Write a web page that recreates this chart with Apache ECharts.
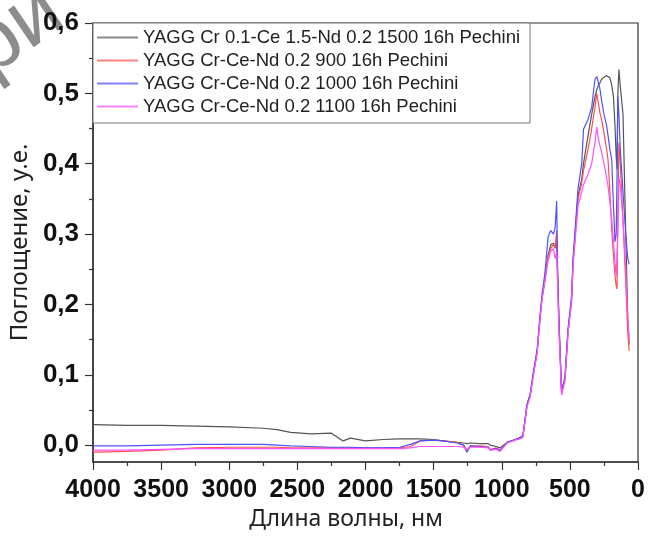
<!DOCTYPE html>
<html><head><meta charset="utf-8">
<script src="https://cdn.jsdelivr.net/npm/echarts@6/dist/echarts.min.js"></script>
<style>html,body{margin:0;padding:0;background:#fff}#c{width:648px;height:536px}</style>
</head><body><div id="c"></div>
<script>
const seriesNames = [
  'YAGG Cr 0.1-Ce 1.5-Nd 0.2 1500 16h Pechini',
  'YAGG Cr-Ce-Nd 0.2 900 16h Pechini',
  'YAGG Cr-Ce-Nd 0.2 1000 16h Pechini',
  'YAGG Cr-Ce-Nd 0.2 1100 16h Pechini'
];
const wavelengths = [4000,3750,3500,3250,3000,2750,2650,2550,2400,2250,2165,2110,2000,1870,1750,1670,1600,1500,1430,1330,1280,1255,1230,1160,1100,1085,1040,1013,960,900,865,845,815,790,770,740,720,705,683,660,640,620,608,597,590,580,573,561,550,536,514,487,477,440,413,400,367,340,316,303,290,279,267,250,230,220,206,193,180,169,160,154,148,140,130,110,90,75,65];
const abs1500 = [0.029,0.028,0.028,0.027,0.026,0.024,0.022,0.018,0.016,0.017,0.006,0.010,0.006,0.008,0.009,0.009,0.009,0.008,0.006,0.004,0.003,0.002,0.003,0.002,0.002,0.000,-0.002,-0.004,0.004,0.008,0.010,0.012,0.056,0.072,0.099,0.133,0.179,0.208,0.236,0.270,0.285,0.287,0.280,0.290,0.24,0.17,0.137,0.077,0.085,0.094,0.161,0.208,0.260,0.354,0.378,0.400,0.440,0.470,0.495,0.505,0.512,0.515,0.520,0.523,0.525,0.525,0.522,0.512,0.495,0.454,0.410,0.392,0.500,0.534,0.510,0.470,0.300,0.180,0.143];
const abs900 = [-0.010,-0.009,-0.007,-0.004,-0.003,-0.003,-0.003,-0.004,-0.004,-0.004,-0.004,-0.004,-0.004,-0.004,-0.004,-0.002,0.006,0.007,0.006,0.004,0.000,-0.008,-0.001,-0.001,-0.002,-0.006,-0.004,-0.007,0.004,0.008,0.010,0.012,0.056,0.072,0.099,0.133,0.179,0.208,0.236,0.268,0.280,0.285,0.280,0.305,0.24,0.17,0.135,0.076,0.083,0.094,0.160,0.208,0.258,0.350,0.372,0.390,0.420,0.450,0.480,0.500,0.485,0.472,0.463,0.445,0.420,0.406,0.360,0.307,0.270,0.241,0.226,0.222,0.330,0.430,0.400,0.320,0.230,0.160,0.134];
const abs1000 = [-0.001,-0.001,0.000,0.001,0.001,0.001,0.000,-0.001,-0.002,-0.003,-0.003,-0.003,-0.004,-0.004,-0.003,0.001,0.006,0.007,0.006,0.003,0.000,-0.010,-0.001,-0.002,-0.003,-0.007,-0.005,-0.008,0.004,0.008,0.011,0.014,0.058,0.074,0.102,0.137,0.183,0.213,0.245,0.296,0.305,0.300,0.310,0.347,0.25,0.18,0.138,0.078,0.086,0.097,0.165,0.213,0.265,0.365,0.400,0.449,0.463,0.480,0.520,0.524,0.515,0.506,0.490,0.470,0.454,0.440,0.420,0.406,0.340,0.289,0.300,0.380,0.496,0.470,0.420,0.360,0.300,0.265,0.257];
const abs1100 = [-0.007,-0.007,-0.006,-0.005,-0.005,-0.005,-0.005,-0.005,-0.005,-0.005,-0.005,-0.005,-0.005,-0.005,-0.005,-0.004,-0.002,-0.002,-0.002,-0.002,-0.003,-0.006,-0.003,-0.003,-0.004,-0.007,-0.006,-0.009,0.003,0.007,0.009,0.011,0.054,0.070,0.097,0.131,0.177,0.206,0.233,0.262,0.276,0.279,0.265,0.275,0.23,0.16,0.130,0.071,0.080,0.092,0.158,0.205,0.255,0.340,0.360,0.370,0.385,0.400,0.430,0.452,0.435,0.425,0.416,0.400,0.380,0.368,0.345,0.321,0.290,0.260,0.240,0.238,0.300,0.380,0.370,0.320,0.250,0.180,0.150];
const yMajorTicks = [0, 0.1, 0.2, 0.3, 0.4, 0.5, 0.6];
const xTitle = 'Длина волны, нм';
const yTitle = 'Поглощение, у.е.';
const watermarkText = 'ри';

const colors = ['#555555', '#ff5050', '#5050ff', '#ff50ff'];
const legendColors = ['#888888', '#ff8080', '#8080ff', '#ff80ff'];
const valueSets = [abs1500, abs900, abs1000, abs1100];
const pair = vals => wavelengths.map((w, i) => [w, vals[i]]);

const chart = echarts.init(document.getElementById('c'), null, {renderer: 'canvas'});
const axisColor = '#333';
chart.setOption({
  animation: false,
  backgroundColor: '#fff',
  grid: {left: 93, right: 10, top: 23, bottom: 73, show: true, borderColor: axisColor, borderWidth: 1.2, backgroundColor: 'transparent'},
  legend: {
    left: 93, top: 23, orient: 'vertical',
    padding: [5, 10, 7, 4], itemGap: 4, itemWidth: 41, itemHeight: 2, icon: 'rect',
    borderColor: '#777', borderWidth: 1, backgroundColor: '#fff',
    textStyle: {fontFamily: 'Liberation Sans', fontSize: 18.5, lineHeight: 18, color: '#222'},
    data: seriesNames.map((n, i) => ({name: n, itemStyle: {color: legendColors[i]}}))
  },
  xAxis: {
    type: 'value', inverse: true, min: 0, max: 4000, interval: 500,
    name: xTitle, nameLocation: 'middle', nameGap: 46,
    nameTextStyle: {fontFamily: 'Noto Sans', fontSize: 23, color: '#222', padding: [0, 39, 0, 0]},
    axisLine: {show: true, onZero: false, lineStyle: {color: axisColor, width: 1.5}},
    axisTick: {show: true, inside: false, length: 8, lineStyle: {color: axisColor, width: 1.2}},
    minorTick: {show: true, splitNumber: 2, length: 4, lineStyle: {color: axisColor, width: 1.2}},
    axisLabel: {fontFamily: 'Liberation Sans', fontWeight: 'bold', fontSize: 25, color: '#111', margin: 16,
      formatter: v => String(v)},
    splitLine: {show: false}
  },
  yAxis: {
    type: 'value', min: -0.024, max: 0.6, position: 'left',
    name: yTitle, nameLocation: 'middle', nameGap: 60, nameRotate: 90,
    nameTextStyle: {fontFamily: 'Noto Sans', fontSize: 24, color: '#222'},
    axisLine: {show: true, onZero: false, lineStyle: {color: axisColor, width: 1.5}},
    axisTick: {show: true, inside: false, length: 8, customValues: yMajorTicks, lineStyle: {color: axisColor, width: 1.2}},
    minorTick: {show: true, splitNumber: 2, length: 4, lineStyle: {color: axisColor, width: 1.2}},
    axisLabel: {customValues: yMajorTicks, fontFamily: 'Liberation Sans', fontWeight: 'bold', fontSize: 26, color: '#111', margin: 14,
      formatter: v => Number(v).toFixed(1).replace('.', ',')},
    splitLine: {show: false}
  },
  graphic: [{
    type: 'text', x: -24, y: 58, rotation: 0.6, silent: true, z: 0,
    style: {text: watermarkText, fontSize: 86, fontFamily: 'Liberation Sans', fill: 'rgba(120,120,120,0.85)', textAlign: 'left', textVerticalAlign: 'middle'}
  }],
  series: seriesNames.map((n, i) => ({
    name: n, type: 'line', data: pair(valueSets[i]), showSymbol: false, symbol: 'none',
    lineStyle: {color: colors[i], width: 1.2}, itemStyle: {color: colors[i]}, z: 2 + i
  }))
});
</script></body></html>
